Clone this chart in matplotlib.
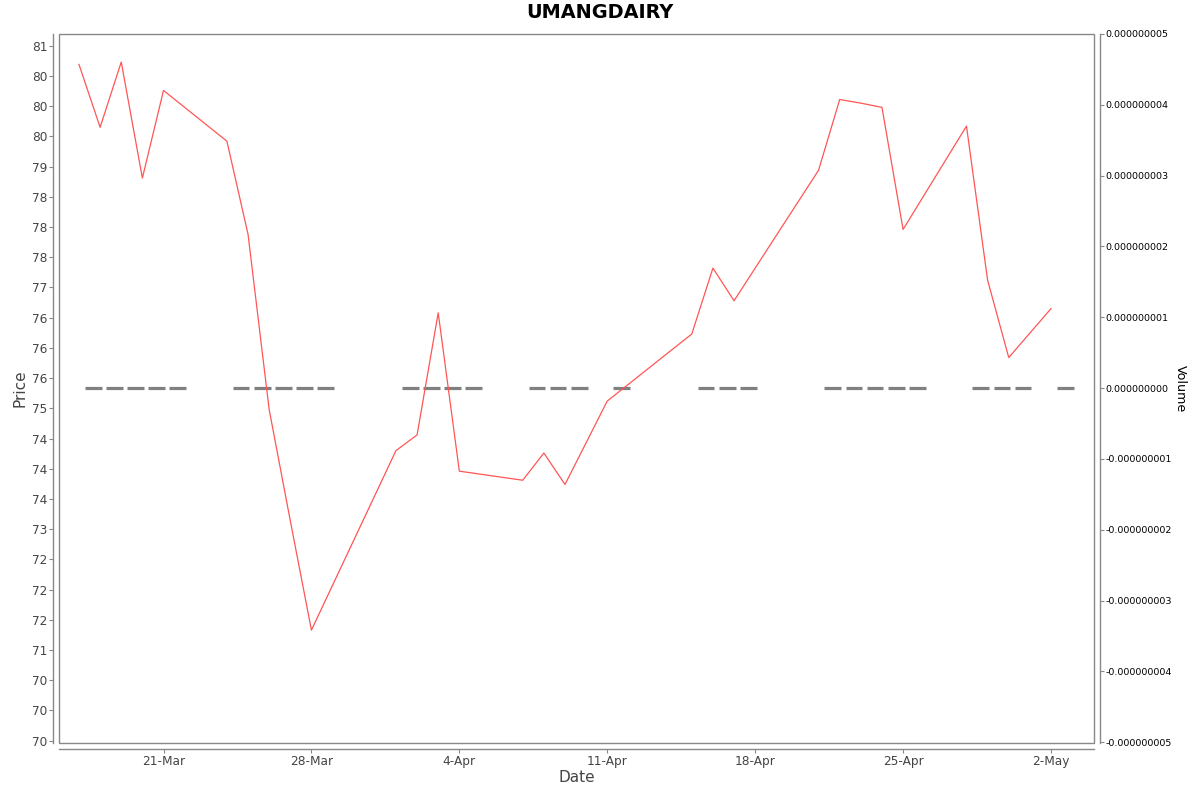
import matplotlib

matplotlib.use("Agg")
import matplotlib.pyplot as plt
import matplotlib.dates as mdates
from matplotlib.patches import Rectangle
import pandas as pd

# ---- data ----
dates = [
    "2025-03-17", "2025-03-18", "2025-03-19", "2025-03-20", "2025-03-21",
    "2025-03-24", "2025-03-25", "2025-03-26", "2025-03-27", "2025-03-28",
    "2025-04-01", "2025-04-02", "2025-04-03", "2025-04-04",
    "2025-04-07", "2025-04-08", "2025-04-09", "2025-04-11",
    "2025-04-15", "2025-04-16", "2025-04-17",
    "2025-04-21", "2025-04-22", "2025-04-23", "2025-04-24", "2025-04-25",
    "2025-04-28", "2025-04-29", "2025-04-30", "2025-05-02",
]
prices = [
    80.69, 79.65, 80.73, 78.81, 80.26,
    79.42, 77.88, 74.98, 73.14, 71.33,
    74.30, 74.56, 76.58, 73.96,
    73.81, 74.26, 73.74, 75.12,
    76.23, 77.32, 76.78,
    78.94, 80.11, 80.05, 79.98, 77.96,
    79.67, 77.12, 75.84, 76.65,
]
volumes = [0, 0, 0, 0, 0, 0, 0, 0, 0, 0, 0, 0, 0, 0, 0,
           0, 0, 0, 0, 0, 0, 0, 0, 0, 0, 0, 0, 0, 0, 0]

price_ticks = [69.5 + 0.5 * k for k in range(24)]
price_tick_labels = ["70", "70", "70", "71", "72", "72", "72", "73", "74", "74",
                     "74", "75", "76", "76", "76", "77", "78", "78", "78", "79",
                     "80", "80", "80", "81"]
volume_ticks = [k * 1e-9 for k in range(-5, 6)]
volume_tick_labels = [f"{v:.9f}" for v in volume_ticks]

title = "UMANGDAIRY"

# ---- style ----
C_LINE = "#ff5555"
C_VOL = "#808080"
C_AXIS = "#888888"
C_TEXT = "#444444"

W, H = 1200, 792
fig = plt.figure(figsize=(W / 100, H / 100), dpi=100)
left, right, top, bottom = 59, 1094, 34, 743
ax = fig.add_axes([left / W, 1 - bottom / H, (right - left) / W, (bottom - top) / H])
ax2 = ax.twinx()

x = pd.to_datetime(dates)

# volume bars (all zero -> flat gray dashes)
ax2.bar(x + pd.Timedelta(hours=6.7), volumes, width=0.79, align="edge",
        color=C_VOL, edgecolor=C_VOL, linewidth=2.3)
ax2.set_ylim(-5.01e-9, 5.0e-9)
ax2.set_yticks(volume_ticks)
ax2.set_yticklabels(volume_tick_labels)
ax2.set_ylabel("Volume", rotation=-90, va="bottom", fontsize=9.1, labelpad=1.5)

# price line on top of the volume bars
ax.set_zorder(ax2.get_zorder() + 1)
ax.patch.set_visible(False)
ax.plot(x, prices, color=C_LINE, lw=0.9)
ax.set_ylim(69.462, 81.194)
ax.set_yticks(price_ticks)
ax.set_yticklabels(price_tick_labels)
ax.set_xlim(pd.Timestamp("2025-03-16 01:18"), pd.Timestamp("2025-05-04 00:50"))
ax.xaxis.set_major_locator(mdates.WeekdayLocator(byweekday=mdates.FR))
ax.xaxis.set_major_formatter(mdates.DateFormatter("%-d-%b"))

ax.set_xlabel("Date", fontsize=11, color=C_TEXT, labelpad=1.5)
ax.set_ylabel("Price", fontsize=11, color=C_TEXT, labelpad=3)

# axis lines offset from the plot border
for a in (ax, ax2):
    for s in a.spines.values():
        s.set_visible(False)
ax.spines["left"].set_visible(True)
ax.spines["bottom"].set_visible(True)
ax2.spines["right"].set_visible(True)
for s in (ax.spines["left"], ax.spines["bottom"], ax2.spines["right"]):
    s.set_position(("outward", 4))
    s.set_color(C_AXIS)
    s.set_linewidth(1.0)

ax.tick_params(axis="both", length=3, width=0.8, color=C_AXIS, pad=1.5,
               labelsize=8.7, labelcolor=C_TEXT)
ax2.tick_params(axis="y", length=3, width=0.8, color=C_AXIS, pad=1.5,
                labelsize=6.8, labelcolor="black")

# plot border
ax.add_patch(Rectangle((0, 0), 1, 1, transform=ax.transAxes, fill=False,
                       edgecolor=C_AXIS, lw=1.0, clip_on=False, zorder=5))

fig.text(0.5, 1 - 13 / H, title, ha="center", va="center",
         fontsize=13.9, fontweight="bold")

fig.savefig("out.png", dpi=100)
